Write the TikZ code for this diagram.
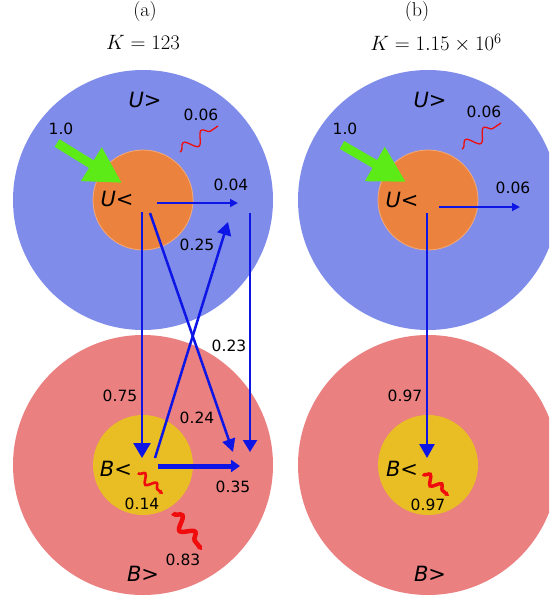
\documentclass[tikz,border=0pt]{standalone}
\usepackage{fontspec}
\newfontfamily\dejavu{DejaVu Sans}
\usetikzlibrary{positioning,arrows.meta,decorations.pathmorphing}
\definecolor{outerU}{RGB}{127,140,234}
\definecolor{innerU}{RGB}{235,130,62}
\definecolor{innerUrim}{RGB}{245,170,120}
\definecolor{outerB}{RGB}{234,128,128}
\definecolor{innerB}{RGB}{232,190,36}
\definecolor{flowblue}{RGB}{14,22,230}
\definecolor{feedgreen}{RGB}{92,235,22}
\definecolor{lossred}{RGB}{240,12,12}
\tikzset{
el/.style={font=\dejavu\fontsize{15.5}{18}\selectfont,inner sep=0pt},
lvl/.style={font=\dejavu\fontsize{21}{24}\selectfont,inner sep=0pt},
ttl/.style={font=\fontsize{20}{23}\selectfont,inner sep=0pt},
disc/.style={circle,inner sep=0pt,minimum size=#1},
feed/.style={draw=feedgreen,line width=9pt,-{Triangle[length=36pt,width=37pt]}},
flow/.style={draw=flowblue,line width=#1},
tip/.style n args={2}{-{Triangle[length=#1,width=#2]}},
loss/.style n args={3}{draw=lossred,line width=#1,decorate,
  decoration={snake,amplitude=#2,segment length=#3,pre length=1pt,post length=2pt}},
}
\begin{document}
\begin{tikzpicture}[x=1pt,y=-1pt]
	\clip (0,0) rectangle (549,597);

	% panel (a)
	\node[disc=260pt,fill=outerU] (uo-a) at (143,200) {};
	\node[disc=100pt,fill=innerU,draw=innerUrim,line width=0.8pt] (ui-a) at (143,200) {};
	\node[disc=260pt,fill=outerB] (bo-a) at (143,465) {};
	\node[disc=100pt,fill=innerB] (bi-a) at (143,465) {};

	\node[ttl] (ta) at (145,12) {(a)};
	\node[ttl] (ka) at (143,42) {$K=123$};

	\coordinate (a-in) at (57,143);
	\coordinate (a-tip) at (122,183);
	\coordinate (a-u1) at (157,203);
	\coordinate (a-e1) at (238,203);
	\coordinate (a-u2) at (142,212);
	\coordinate (a-b2) at (142,458);
	\coordinate (a-u3) at (150,213);
	\coordinate (a-e3) at (233,452);
	\coordinate (a-b4) at (155,458);
	\coordinate (a-e4) at (228,222);
	\coordinate (a-s5) at (250,213);
	\coordinate (a-e5) at (250,452);
	\coordinate (a-b6) at (158,466);
	\coordinate (a-e6) at (240,466);
	\coordinate (a-w1s) at (180,152);
	\coordinate (a-w1) at (218,126);
	\coordinate (a-w2s) at (138,473);
	\coordinate (a-w2) at (163,494);
	\coordinate (a-w3s) at (173,513);
	\coordinate (a-w3) at (202,550);

	\draw[feed] (a-in) -- (a-tip);
	\draw[flow=1.8pt,tip={8pt}{8pt}] (a-u1) -- (a-e1);
	\draw[flow=2.5pt,tip={15pt}{17pt}] (a-u2) -- (a-b2);
	\draw[flow=2.5pt,tip={13pt}{13pt}] (a-u3) -- (a-e3);
	\draw[flow=2.5pt,tip={13pt}{14pt}] (a-b4) -- (a-e4);
	\draw[flow=2.2pt,tip={12pt}{14pt}] (a-s5) -- (a-e5);
	\draw[flow=5pt,tip={9pt}{12pt}] (a-b6) -- (a-e6);
	\draw[loss={1.3pt}{6pt}{22pt}] (a-w1s) -- (a-w1);
	\draw[loss={2.6pt}{4.5pt}{15pt},-{Stealth[length=4pt,width=5pt]}] (a-w2s) -- (a-w2);
	\draw[loss={4.5pt}{6pt}{21pt},-{Stealth[length=4pt,width=6pt]}] (a-w3s) -- (a-w3);

	\node[lvl] (la-uo) at (145,100) {{\itshape U}>};
	\node[lvl] (la-ui) at (117,199) {{\itshape U}<};
	\node[lvl] (la-bi) at (116,469) {{\itshape B}<};
	\node[lvl] (la-bo) at (143,574) {{\itshape B}>};
	\node[el] at (201,115) {0.06};
	\node[el] at (61,129) {1.0};
	\node[el] at (231,185) {0.04};
	\node[el] at (197,245) {0.25};
	\node[el] at (229,346) {0.23};
	\node[el] at (120,396) {0.75};
	\node[el] at (197,418) {0.24};
	\node[el] at (233,487) {0.35};
	\node[el] at (142,504) {0.14};
	\node[el] at (183,560) {0.83};

	% panel (b)
	\node[disc=260pt,fill=outerU] (uo-b) at (428,200) {};
	\node[disc=100pt,fill=innerU,draw=innerUrim,line width=0.8pt] (ui-b) at (428,200) {};
	\node[disc=260pt,fill=outerB] (bo-b) at (428,465) {};
	\node[disc=100pt,fill=innerB] (bi-b) at (428,465) {};

	\node[ttl] (tb) at (417,12) {(b)};
	\node[ttl] (kb) at (436,43) {$K=1.15\times10^{6}$};

	\coordinate (b-in) at (342,145);
	\coordinate (b-tip) at (406,182);
	\coordinate (b-u1) at (439,207);
	\coordinate (b-e1) at (520,207);
	\coordinate (b-u2) at (427,213);
	\coordinate (b-b2) at (427,458);
	\coordinate (b-w1s) at (462,149);
	\coordinate (b-w1) at (501,123);
	\coordinate (b-w2s) at (423,474);
	\coordinate (b-w2) at (449,496);

	\draw[feed] (b-in) -- (b-tip);
	\draw[flow=1.8pt,tip={8pt}{8pt}] (b-u1) -- (b-e1);
	\draw[flow=2.5pt,tip={14pt}{15pt}] (b-u2) -- (b-b2);
	\draw[loss={1.3pt}{6pt}{22pt}] (b-w1s) -- (b-w1);
	\draw[loss={3.5pt}{4.5pt}{15pt},-{Stealth[length=4pt,width=5pt]}] (b-w2s) -- (b-w2);

	\node[lvl] (lb-uo) at (430,100) {{\itshape U}>};
	\node[lvl] (lb-ui) at (402,200) {{\itshape U}<};
	\node[lvl] (lb-bi) at (402,469) {{\itshape B}<};
	\node[lvl] (lb-bo) at (430,574) {{\itshape B}>};
	\node[el] at (484,112) {0.06};
	\node[el] at (345,129) {1.0};
	\node[el] at (513,188) {0.06};
	\node[el] at (405,396) {0.97};
	\node[el] at (428,505) {0.97};
\end{tikzpicture}
\end{document}
